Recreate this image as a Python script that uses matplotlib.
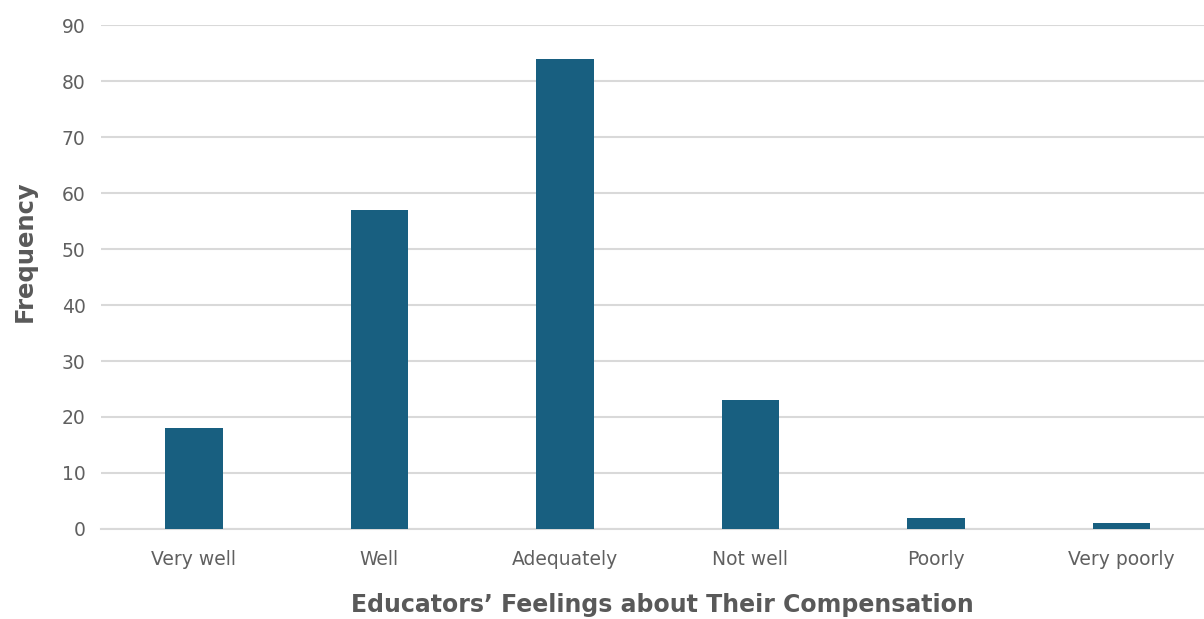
import matplotlib
matplotlib.use('Agg')
import matplotlib.pyplot as plt

categories = ['Very well', 'Well', 'Adequately', 'Not well', 'Poorly', 'Very poorly']
frequency = [18, 57, 84, 23, 2, 1]
y_ticks = [0, 10, 20, 30, 40, 50, 60, 70, 80, 90]

bar_color = '#185f80'
text_color = '#595959'

plt.rcParams['font.family'] = ['DejaVu Sans']

fig = plt.figure(figsize=(12.04, 6.19), dpi=100)
ax = fig.add_axes([0.0839, 0.1454, 0.9161, 0.8142])

x = range(len(categories))
ax.bar(x, frequency, width=0.31, color=bar_color, zorder=3)

ax.set_xlim(-0.5, 5.446)
ax.set_ylim(0, 90)
ax.set_yticks(y_ticks)
ax.set_xticks(list(x))
ax.set_xticklabels(categories)

ax.grid(axis='y', color='#d9d9d9', linewidth=1.5, zorder=0)
for side in ['top', 'right', 'left']:
    ax.spines[side].set_visible(False)
ax.spines['bottom'].set_color('#d9d9d9')
ax.spines['bottom'].set_linewidth(1.5)
ax.tick_params(axis='both', length=0, labelsize=13.5, labelcolor='#606060')
ax.tick_params(axis='y', pad=11)
ax.tick_params(axis='x', pad=15)

# axis titles placed by hand, like the reference
fig.text(25 / 1204, 1 - 251 / 619, 'Frequency', fontsize=17.5, fontweight='bold',
         color=text_color, rotation=90, ha='center', va='center')
fig.text((343 + 981) / 2 / 1204, 1 - 612 / 619,
         'Educators\u2019 Feelings about Their Compensation', fontsize=17,
         fontweight='bold', color=text_color, ha='center', va='baseline')

fig.savefig('out.png', dpi=100)
